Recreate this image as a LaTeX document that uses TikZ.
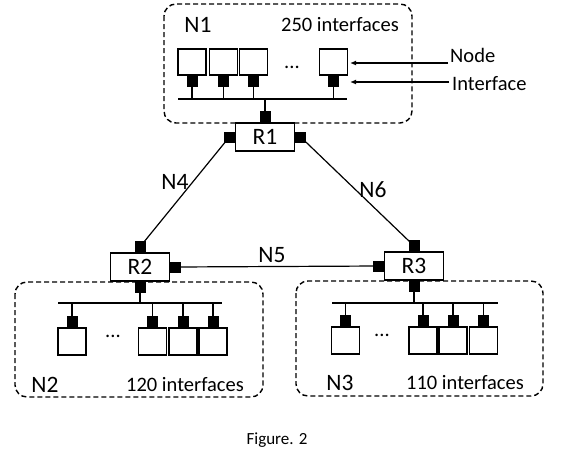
\documentclass[tikz,border=0pt]{standalone}
\usepackage{fontspec}
\setmainfont{Carlito}
\usetikzlibrary{arrows.meta}
\begin{document}
\begin{tikzpicture}[x=1pt,y=-1pt,
  net/.style={draw, line width=1.4pt, dash pattern=on 5pt off 3pt, rounded corners=12pt},
  host/.style={draw, fill=white, line width=1.3pt, minimum width=28pt, minimum height=27pt, inner sep=0pt},
  iface/.style={fill=black, minimum size=11pt, inner sep=0pt},
  router/.style={draw, fill=white, line width=1.3pt, minimum width=59pt, minimum height=28pt, inner sep=0pt, font=\fontsize{23.5}{26}\selectfont},
  lbl/.style={font=\fontsize{23.5}{26}\selectfont, inner sep=0pt},
  small/.style={font=\fontsize{20.5}{24}\selectfont, inner sep=0pt},
  wire/.style={line width=1.2pt},
  busline/.style={line width=1.4pt},
  pointer/.style={line width=1.2pt, -{Latex[length=6pt,width=5pt]}}]
\useasboundingbox (0,0) rectangle (568,456);

% ---------- networks (dashed) ----------
\draw[net] (164,4) rectangle (412,123);
\draw[net] (15,282) rectangle (263,397);
\draw[net] (296,281) rectangle (543,396);

% ---------- routers ----------
\node[router] (R1) at (265,137) {R1};
\node[iface] (R1l) at ([xshift=-5.5pt]R1.west) {};
\node[iface] (R1r) at ([xshift=5.5pt]R1.east) {};
\node[iface] (R1t) at ([yshift=5.5pt]R1.north) {};

\node[router] (R2) at (140,267) {R2};
\node[iface] (R2t) at ([yshift=5.5pt]R2.north) {};
\node[iface] (R2r) at ([xshift=5.5pt]R2.east) {};
\node[iface] (R2b) at ([yshift=-5.5pt]R2.south) {};

\node[router] (R3) at (414,266) {R3};
\node[iface] (R3t) at ([yshift=5.5pt]R3.north) {};
\node[iface] (R3l) at ([xshift=-5.5pt]R3.west) {};
\node[iface] (R3b) at ([yshift=-5.5pt]R3.south) {};

% ---------- N1 hosts ----------
\foreach \i/\x in {1/192,2/223.5,3/253.5,4/333.5}{
  \node[host, minimum height=26pt] (a\i) at (\x,62) {};
  \node[iface] (ai\i) at ([yshift=-5.5pt]a\i.south) {};
}
\coordinate (bus1L) at (178,99);
\coordinate (bus1R) at (347,99);
\draw[busline] (bus1L) -- (bus1R);
\foreach \i in {1,2,3,4}{ \draw[wire] (ai\i.south) -- (ai\i.south |- bus1L); }
\draw[wire] (R1t.north |- bus1L) -- (R1t.north);
\node[small] (d1) at (292,67) {...};

% ---------- N2 hosts ----------
\foreach \i/\x in {1/72,2/152.5,3/183,4/213}{
  \node[host] (b\i) at (\x,341.5) {};
  \node[iface] (bi\i) at ([yshift=5.5pt]b\i.north) {};
}
\coordinate (bus2L) at (58,303);
\coordinate (bus2R) at (222,303);
\draw[busline] (bus2L) -- (bus2R);
\foreach \i in {1,2,3,4}{ \draw[wire] (bi\i.north |- bus2L) -- (bi\i.north); }
\draw[wire] (R2b.south) -- (R2b.south |- bus2L);
\node[small] (d2) at (113,336) {...};

% ---------- N3 hosts ----------
\foreach \i/\x in {1/345.5,2/423,3/453,4/483.5}{
  \node[host] (c\i) at (\x,340.5) {};
  \node[iface] (ci\i) at ([yshift=5.5pt]c\i.north) {};
}
\coordinate (bus3L) at (332,303);
\coordinate (bus3R) at (498,303);
\draw[busline] (bus3L) -- (bus3R);
\foreach \i in {1,2,3,4}{ \draw[wire] (ci\i.north |- bus3L) -- (ci\i.north); }
\draw[wire] (R3b.south) -- (R3b.south |- bus3L);
\node[small] (d3) at (382,335) {...};

% ---------- links between routers ----------
\draw[wire] (R1l.center) -- (R2t.center);
\draw[wire] (R1r.center) -- (R3t.center);
\draw[wire] (R2r.center) -- (R3l.center);

% ---------- labels ----------
\node[lbl] (L1) at (198,25) {N1};
\node[small] (I1) at (340,25) {250 interfaces};
\node[lbl] (L2) at (45,385) {N2};
\node[small] (I2) at (185,385) {120 interfaces};
\node[lbl] (L3) at (340,383) {N3};
\node[small] (I3) at (465,383) {110 interfaces};
\node[lbl] (L4) at (175,182) {N4};
\node[lbl] (L5) at (272,255) {N5};
\node[lbl] (L6) at (373,190) {N6};

\node[small, anchor=west] (tNode) at (450,55) {Node};
\node[small, anchor=west] (tIf) at (452,84) {Interface};
\coordinate (pN0) at (448,63);
\coordinate (pN1) at (350,63);
\coordinate (pI0) at (449,82);
\coordinate (pI1) at (350,82);
\draw[pointer] (pN0) -- (pN1);
\draw[pointer] (pI0) -- (pI1);

\node[font=\fontsize{17}{20}\selectfont, inner sep=0pt] (fig) at (277,440) {Figure. 2};
\end{tikzpicture}
\end{document}
